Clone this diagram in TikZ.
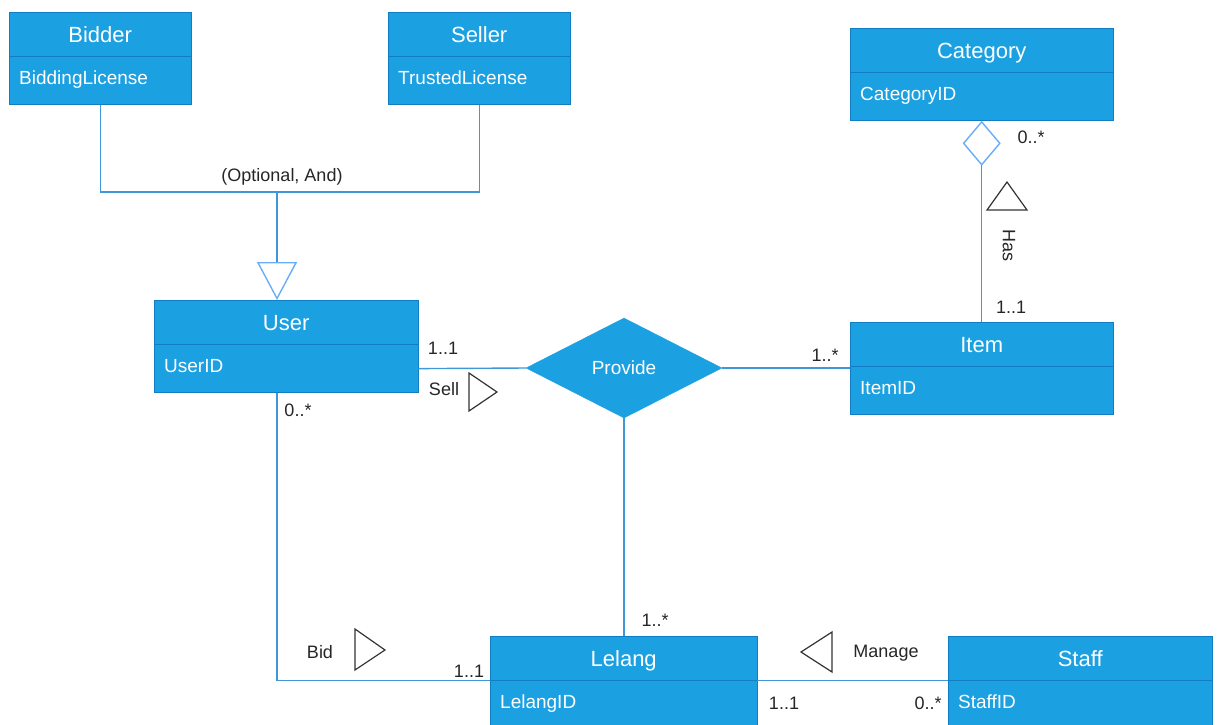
\documentclass[tikz,border=0pt]{standalone}
\usepackage{fontspec}
\setmainfont{Liberation Sans}
\usetikzlibrary{positioning,shapes.geometric,arrows.meta}
\definecolor{umlblue}{RGB}{27,160,225}
\definecolor{umlborder}{RGB}{18,125,195}
\definecolor{linkblue}{RGB}{62,152,215}
\definecolor{tipblue}{RGB}{105,172,250}
\tikzset{
    classhead/.style={draw=umlborder, fill=umlblue, text=white, font=\fontsize{22}{26}\selectfont,
        minimum height=44pt, inner xsep=10pt, inner ysep=0pt, text width=#1, align=center,
        text height=16pt, text depth=0pt},
    classattr/.style={draw=umlborder, fill=umlblue, text=white, font=\fontsize{19}{23}\selectfont,
        minimum height=48pt, inner xsep=10pt, inner ysep=0pt, text width=#1, align=left,
        text height=14pt, text depth=6.5pt},
    link/.style={draw=linkblue, line width=1.4pt},
    mult/.style={font=\fontsize{18}{22}\selectfont, text=black!85, inner sep=0pt},
    dirmark/.style={draw=black!80, line width=1.2pt, line join=miter}
}
\begin{document}
\begin{tikzpicture}[x=1pt,y=-1pt]
                \useasboundingbox (0,0) rectangle (1220,724);

                \node[classhead=162pt, anchor=north west] (bidderhead) at (9,12) {Bidder};
                \node[classattr=162pt, below=0pt of bidderhead] (bidderattr) {BiddingLicense};
                \node[classhead=162pt, anchor=north west] (sellerhead) at (388,12) {Seller};
                \node[classattr=162pt, below=0pt of sellerhead] (sellerattr) {TrustedLicense};
                \node[classhead=243pt, anchor=north west] (categoryhead) at (850,28) {Category};
                \node[classattr=243pt, below=0pt of categoryhead] (categoryattr) {CategoryID};
                \node[classhead=244pt, anchor=north west] (userhead) at (154,300) {User};
                \node[classattr=244pt, below=0pt of userhead] (userattr) {UserID};
                \node[classhead=243pt, anchor=north west] (itemhead) at (850,322) {Item};
                \node[classattr=243pt, below=0pt of itemhead] (itemattr) {ItemID};
                \node[classhead=247pt, anchor=north west] (lelanghead) at (490,636) {Lelang};
                \node[classattr=247pt, below=0pt of lelanghead] (lelangattr) {LelangID};
                \node[classhead=244pt, anchor=north west] (staffhead) at (948,636) {Staff};
                \node[classattr=244pt, below=0pt of staffhead] (staffattr) {StaffID};

                \node[diamond, fill=umlblue, draw=umlblue, minimum width=196pt, minimum height=100pt,
                    inner sep=0pt, text=white, font=\fontsize{19}{23}\selectfont] (provide) at (624,368) {Provide};

                \coordinate (genjoin) at (277,192);

                \draw[link] (bidderattr.south) |- (genjoin) -| (sellerattr.south);
                \draw[link, -{Triangle[open, length=38pt, width=40pt, color=tipblue]}] (genjoin) -- (genjoin |- userhead.north);
                \draw[link] (userattr.east) -- (provide.west);
                \draw[link] (provide.east) -- (provide.east -| itemattr.west);
                \draw[link] (provide.south) -- (provide.south |- lelanghead.north);
                \draw[link] (userattr.south -| genjoin) |- (lelanghead.south west);
                \draw[link] (lelanghead.south east) -- (staffhead.south west);
                \draw[link, {Diamond[open, length=45pt, width=38pt, color=tipblue]}-] (categoryattr.south) -- (itemhead.north);

                \node[mult] (genlabel) at (282,177) {(Optional, And)};
                \node[mult] (sellusermult) at (443,348) {1..1};
                \node[mult] (selllabel) at (444,389) {Sell};
                \node[mult] (sellitemmult) at (825,355) {1..*};
                \node[mult] (bidusermult) at (298,410) {0..*};
                \node[mult] (hascatmult) at (1031,137) {0..*};
                \node[mult, rotate=-90] (haslabel) at (1009,245) {Has};
                \node[mult] (hasitemmult) at (1011,307) {1..1};
                \node[mult] (selllelangmult) at (655,620) {1..*};
                \node[mult] (bidlabel) at (320,652) {Bid};
                \node[mult] (bidlelangmult) at (469,671) {1..1};
                \node[mult] (managelabel) at (886,653) {Manage};
                \node[mult] (managelelangmult) at (784,703) {1..1};
                \node[mult] (managestaffmult) at (928,703) {0..*};

                \draw[dirmark] (469,373) -- (497,392) -- (469,411) -- cycle;
                \draw[dirmark] (987,210) -- (1027,210) -- (1007,182) -- cycle;
                \draw[dirmark] (355,629) -- (385,650) -- (355,670) -- cycle;
                \draw[dirmark] (832,632) -- (801,652) -- (832,672) -- cycle;
\end{tikzpicture}
\end{document}
